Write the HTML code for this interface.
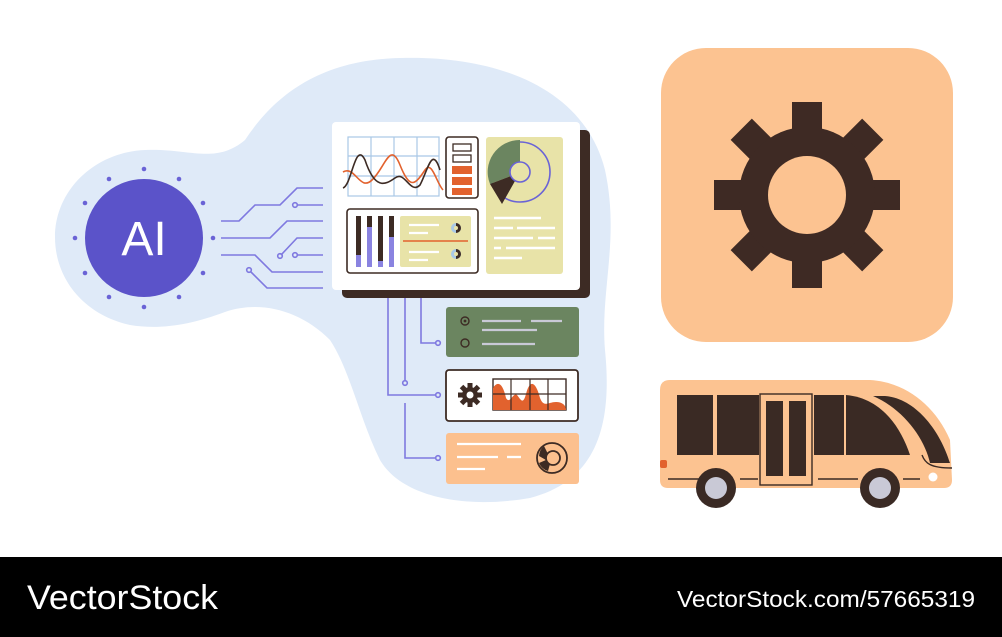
<!DOCTYPE html>
<html><head><meta charset="utf-8"><style>
html,body{margin:0;padding:0;background:#fff;width:1002px;height:637px;overflow:hidden}
svg{display:block}
</style></head><body>
<svg width="1002" height="637" viewBox="0 0 1002 637" xmlns="http://www.w3.org/2000/svg">
<rect width="1002" height="637" fill="#fff"/>
<!-- blob -->
<path d="M145,150 C190,148 215,165 245,140 C275,95 320,60 400,58 C500,55 585,90 605,170 C620,240 600,290 605,350 C612,420 600,480 530,498 C460,510 400,495 380,460 C360,420 350,370 330,340 C300,310 260,300 225,312 C190,325 160,330 130,325 C85,315 55,280 55,237 C55,190 95,152 145,150 Z" fill="#dfeaf8"/>
<!-- AI circle -->
<circle cx="144" cy="238" r="59" fill="#5b53c9"/>
<text x="144" y="255" font-family="Liberation Sans, sans-serif" font-size="48" fill="#fff" text-anchor="middle">AI</text>
<g fill="#6a63d6">
<circle cx="213" cy="238" r="2.3"/><circle cx="75" cy="238" r="2.3"/>
<circle cx="144" cy="169" r="2.3"/><circle cx="144" cy="307" r="2.3"/>
<circle cx="203" cy="203" r="2.3"/><circle cx="85" cy="203" r="2.3"/>
<circle cx="203" cy="273" r="2.3"/><circle cx="85" cy="273" r="2.3"/>
<circle cx="179" cy="179" r="2.3"/><circle cx="109" cy="179" r="2.3"/>
<circle cx="179" cy="297" r="2.3"/><circle cx="109" cy="297" r="2.3"/>
</g>
<!-- circuits -->
<g fill="none" stroke="#7f79e0" stroke-width="1.6">
<polyline points="221,221 239,221 255,205 280,205 297,188 323,188"/>
<polyline points="297,205 323,205"/><circle cx="295" cy="205" r="2.3"/>
<polyline points="221,238 270,238 287,221 323,221"/>
<polyline points="281,255 297,238 323,238"/><circle cx="280" cy="256" r="2.3"/>
<polyline points="297,255 323,255"/><circle cx="295" cy="255" r="2.3"/>
<polyline points="221,255 255,255 272,272 323,272"/>
<polyline points="251,272 267,288 323,288"/><circle cx="249" cy="270" r="2.3"/>
<polyline points="388,298 388,395 436,395"/><circle cx="438" cy="395" r="2.3"/>
<polyline points="405,298 405,381"/><circle cx="405" cy="383" r="2.3"/>
<polyline points="421,298 421,343 436,343"/><circle cx="438" cy="343" r="2.3"/>
<polyline points="405,403 405,458 436,458"/><circle cx="438" cy="458" r="2.3"/>
</g>
<!-- dashboard -->
<rect x="342" y="130" width="248" height="168" rx="5" fill="#3d2b24"/>
<rect x="332" y="122" width="248" height="168" rx="4" fill="#fff"/>
<g stroke="#a9c8e6" stroke-width="1.2" fill="none">
<rect x="348" y="137" width="91" height="59"/>
<line x1="371" y1="137" x2="371" y2="196"/><line x1="394" y1="137" x2="394" y2="196"/><line x1="417" y1="137" x2="417" y2="196"/>
<line x1="348" y1="156" x2="439" y2="156"/><line x1="348" y1="176" x2="439" y2="176"/>
</g>
<path d="M343,172 C355,165 360,192 372,180 C385,168 390,140 400,165 C410,190 415,185 425,170 C432,160 436,182 443,190" fill="none" stroke="#e2622e" stroke-width="1.6"/>
<path d="M343,188 C352,185 355,140 365,160 C375,190 385,185 395,178 C405,170 410,195 420,185 C428,170 432,145 440,170" fill="none" stroke="#3d2b24" stroke-width="1.6"/>
<rect x="446" y="137" width="32" height="61" rx="3" fill="#fff" stroke="#3d2b24" stroke-width="1.6"/>
<rect x="453" y="144" width="18" height="7" fill="none" stroke="#3d2b24" stroke-width="1.3"/>
<rect x="453" y="155" width="18" height="7" fill="none" stroke="#3d2b24" stroke-width="1.3"/>
<rect x="452" y="166" width="20" height="8" fill="#e2622e"/>
<rect x="452" y="177" width="20" height="8" fill="#e2622e"/>
<rect x="452" y="188" width="20" height="7" fill="#e2622e"/>
<rect x="486" y="137" width="77" height="137" rx="3" fill="#e8e3a8"/>
<circle cx="520" cy="172" r="30" fill="none" stroke="#6a63d6" stroke-width="1.6"/>
<path d="M520,140 L520,162 A10,10 0 0,0 511,176 L490,184 A32,32 0 0,1 520,140 Z" fill="#6b8560"/>
<path d="M490,184 L511,176 A10,10 0 0,0 515,181 L502,204 Z" fill="#3d2b24"/>
<circle cx="520" cy="172" r="10" fill="none" stroke="#6a63d6" stroke-width="1.6"/>
<g stroke="#fff" stroke-width="2.5">
<line x1="494" y1="218" x2="541" y2="218"/><line x1="494" y1="228" x2="513" y2="228"/><line x1="517" y1="228" x2="555" y2="228"/>
<line x1="494" y1="238" x2="533" y2="238"/><line x1="538" y1="238" x2="555" y2="238"/>
<line x1="494" y1="248" x2="501" y2="248"/><line x1="506" y1="248" x2="555" y2="248"/><line x1="494" y1="258" x2="522" y2="258"/>
</g>
<rect x="347" y="209" width="131" height="64" rx="3" fill="#fff" stroke="#3d2b24" stroke-width="1.6"/>
<g>
<rect x="356" y="216" width="5" height="51" fill="#3d2b24"/><rect x="356" y="255" width="5" height="12" fill="#8a83e0"/>
<rect x="367" y="216" width="5" height="51" fill="#3d2b24"/><rect x="367" y="227" width="5" height="40" fill="#8a83e0"/>
<rect x="378" y="216" width="5" height="51" fill="#3d2b24"/><rect x="378" y="261" width="5" height="6" fill="#8a83e0"/>
<rect x="389" y="216" width="5" height="51" fill="#3d2b24"/><rect x="389" y="237" width="5" height="30" fill="#8a83e0"/>
</g>
<rect x="400" y="216" width="71" height="51" rx="2" fill="#e8e3a8"/>
<g stroke="#fff" stroke-width="2.3"><line x1="409" y1="225" x2="439" y2="225"/><line x1="409" y1="233" x2="428" y2="233"/><line x1="409" y1="252" x2="439" y2="252"/><line x1="409" y1="260" x2="428" y2="260"/></g>
<line x1="403" y1="241" x2="468" y2="241" stroke="#e2622e" stroke-width="1.5"/>
<circle cx="456" cy="228" r="5" fill="#a9c8e6"/><path d="M456,223 A5,5 0 0,1 456,233 Z" fill="#3d2b24"/><circle cx="456" cy="228" r="2" fill="#e8e3a8"/>
<circle cx="456" cy="254" r="5" fill="#a9c8e6"/><path d="M456,249 A5,5 0 0,1 456,259 Z" fill="#3d2b24"/><circle cx="456" cy="254" r="2" fill="#e8e3a8"/>
<!-- green card -->
<rect x="446" y="307" width="133" height="50" rx="3" fill="#6b8560"/>
<circle cx="465" cy="321" r="4" fill="none" stroke="#3d2b24" stroke-width="1.4"/><circle cx="465" cy="321" r="1.4" fill="#3d2b24"/>
<circle cx="465" cy="343" r="4" fill="none" stroke="#3d2b24" stroke-width="1.4"/>
<g stroke="#c9c9d6" stroke-width="2.3"><line x1="482" y1="321" x2="521" y2="321"/><line x1="531" y1="321" x2="562" y2="321"/><line x1="482" y1="330" x2="537" y2="330"/><line x1="482" y1="344" x2="535" y2="344"/></g>
<!-- white card -->
<rect x="446" y="370" width="132" height="51" rx="3" fill="#fff" stroke="#3d2b24" stroke-width="1.8"/>
<g transform="translate(470,395)" fill="#3d2b24">
<circle r="8"/>
<rect x="-2.5" y="-12" width="5" height="24"/><rect x="-12" y="-2.5" width="24" height="5"/>
<rect x="-2.5" y="-12" width="5" height="24" transform="rotate(45)"/><rect x="-2.5" y="-12" width="5" height="24" transform="rotate(-45)"/>
<circle r="3.5" fill="#fff"/>
</g>
<rect x="493" y="379" width="73" height="31" fill="#fff" stroke="#3d2b24" stroke-width="1.4"/>
<path d="M493,410 L493,388 C498,380 503,384 506,398 C510,405 513,392 517,395 C521,400 523,405 526,394 C530,378 536,382 540,398 C544,408 548,402 556,402 C562,402 566,405 566,410 Z" fill="#e2622e"/>
<g stroke="#3d2b24" stroke-width="1.2"><line x1="511" y1="379" x2="511" y2="410"/><line x1="530" y1="379" x2="530" y2="410"/><line x1="548" y1="379" x2="548" y2="410"/><line x1="493" y1="394" x2="566" y2="394"/></g>
<!-- orange card -->
<rect x="446" y="433" width="133" height="51" rx="3" fill="#fcc08e"/>
<g stroke="#fff" stroke-width="2.3"><line x1="457" y1="444" x2="521" y2="444"/><line x1="457" y1="457" x2="498" y2="457"/><line x1="507" y1="457" x2="521" y2="457"/><line x1="457" y1="469" x2="485" y2="469"/></g>
<circle cx="552" cy="458" r="15" fill="none" stroke="#3d2b24" stroke-width="1.8"/>
<circle cx="553" cy="458" r="7" fill="none" stroke="#3d2b24" stroke-width="1.8"/>
<path d="M539,456 A14,14 0 0,1 544,446 L548,454 A7,7 0 0,0 546,460 Z" fill="#3d2b24"/>
<path d="M546,460 L539,463 A14,14 0 0,0 548,471 L550,464 Z" fill="#3d2b24"/>
<!-- gear square -->
<rect x="661" y="48" width="292" height="294" rx="45" fill="#fcc391"/>
<g transform="translate(807,195)" fill="#3e2a24">
<rect x="-15" y="-93" width="30" height="186"/>
<rect x="-15" y="-93" width="30" height="186" transform="rotate(45)"/>
<rect x="-15" y="-93" width="30" height="186" transform="rotate(90)"/>
<rect x="-15" y="-93" width="30" height="186" transform="rotate(135)"/>
<circle r="68"/>
<circle r="39" fill="#fcc391"/>
</g>
<!-- bus -->
<path d="M670,380 L870,380 C905,382 935,405 950,440 L952,480 Q952,488 944,488 L668,488 Q660,488 660,480 L660,390 Q660,380 670,380 Z" fill="#fcc391"/>
<rect x="677" y="395" width="36" height="60" fill="#3a2a24"/>
<rect x="717" y="395" width="42" height="60" fill="#3a2a24"/>
<rect x="760" y="394" width="52" height="91" fill="none" stroke="#3a2a24" stroke-width="1.4"/>
<rect x="766" y="401" width="17" height="75" fill="#3a2a24"/>
<rect x="789" y="401" width="17" height="75" fill="#3a2a24"/>
<rect x="814" y="395" width="30" height="60" fill="#3a2a24"/>
<path d="M846,395 C880,398 900,425 910,455 L846,455 Z" fill="#3a2a24"/>
<path d="M873,396 L885,396 C915,398 940,430 950,463 L930,463 C925,440 905,410 873,396 Z" fill="#3a2a24"/>
<path d="M922,455 C925,463 930,468 952,468" fill="none" stroke="#3a2a24" stroke-width="1.4"/>
<rect x="660" y="460" width="7" height="8" rx="2" fill="#e2622e"/>
<circle cx="933" cy="477" r="4.5" fill="#fff"/>
<g stroke="#3a2a24" stroke-width="1.4"><line x1="668" y1="479" x2="700" y2="479"/><line x1="740" y1="479" x2="758" y2="479"/><line x1="818" y1="479" x2="858" y2="479"/><line x1="903" y1="479" x2="920" y2="479"/></g>
<circle cx="716" cy="488" r="20" fill="#3a2a24"/><circle cx="716" cy="488" r="11" fill="#c9c9d6"/>
<circle cx="880" cy="488" r="20" fill="#3a2a24"/><circle cx="880" cy="488" r="11" fill="#c9c9d6"/>
<!-- footer -->
<rect x="0" y="557" width="1002" height="80" fill="#000"/>
<text x="27" y="609" font-family="Liberation Sans, sans-serif" font-size="34" fill="#fff" textLength="191" lengthAdjust="spacingAndGlyphs">VectorStock</text>
<text x="677" y="607" font-family="Liberation Sans, sans-serif" font-size="23" fill="#fff" textLength="298" lengthAdjust="spacingAndGlyphs">VectorStock.com/57665319</text>
</svg>
</body></html>
